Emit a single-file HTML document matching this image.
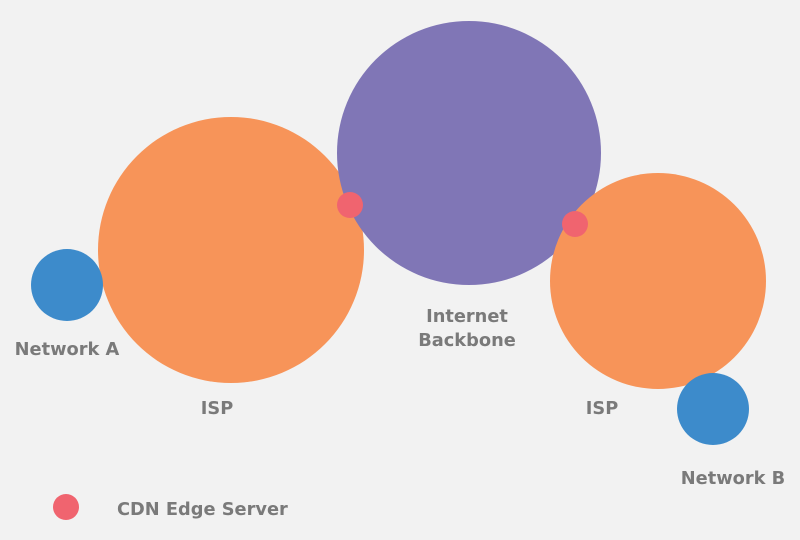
<!DOCTYPE html>
<html><head><style>
body{margin:0;background:#f2f2f2;}
svg{display:block}
text{font-family:"DejaVu Sans",sans-serif;font-weight:bold;font-size:17.8px;fill:#7a7a7a;}
</style></head><body>
<svg width="800" height="540" viewBox="0 0 800 540">
<rect width="800" height="540" fill="#f2f2f2"/>
<circle cx="231" cy="250" r="133" fill="#f79459"/>
<circle cx="469" cy="153" r="132" fill="#8076b6"/>
<circle cx="658" cy="281" r="108" fill="#f79459"/>
<circle cx="67" cy="285" r="36" fill="#3d8bcb"/>
<circle cx="713" cy="409" r="36" fill="#3d8bcb"/>
<circle cx="350" cy="205" r="13" fill="#f0646f"/>
<circle cx="575" cy="224" r="13" fill="#f0646f"/>
<circle cx="66" cy="507" r="13" fill="#f0646f"/>
<text x="67" y="355" text-anchor="middle">Network A</text>
<text x="217" y="414" text-anchor="middle">ISP</text>
<text x="467" y="322" text-anchor="middle">Internet</text>
<text x="467" y="346" text-anchor="middle">Backbone</text>
<text x="602" y="414" text-anchor="middle">ISP</text>
<text x="733" y="484" text-anchor="middle">Network B</text>
<text x="117" y="515">CDN Edge Server</text>
</svg>
</body></html>
